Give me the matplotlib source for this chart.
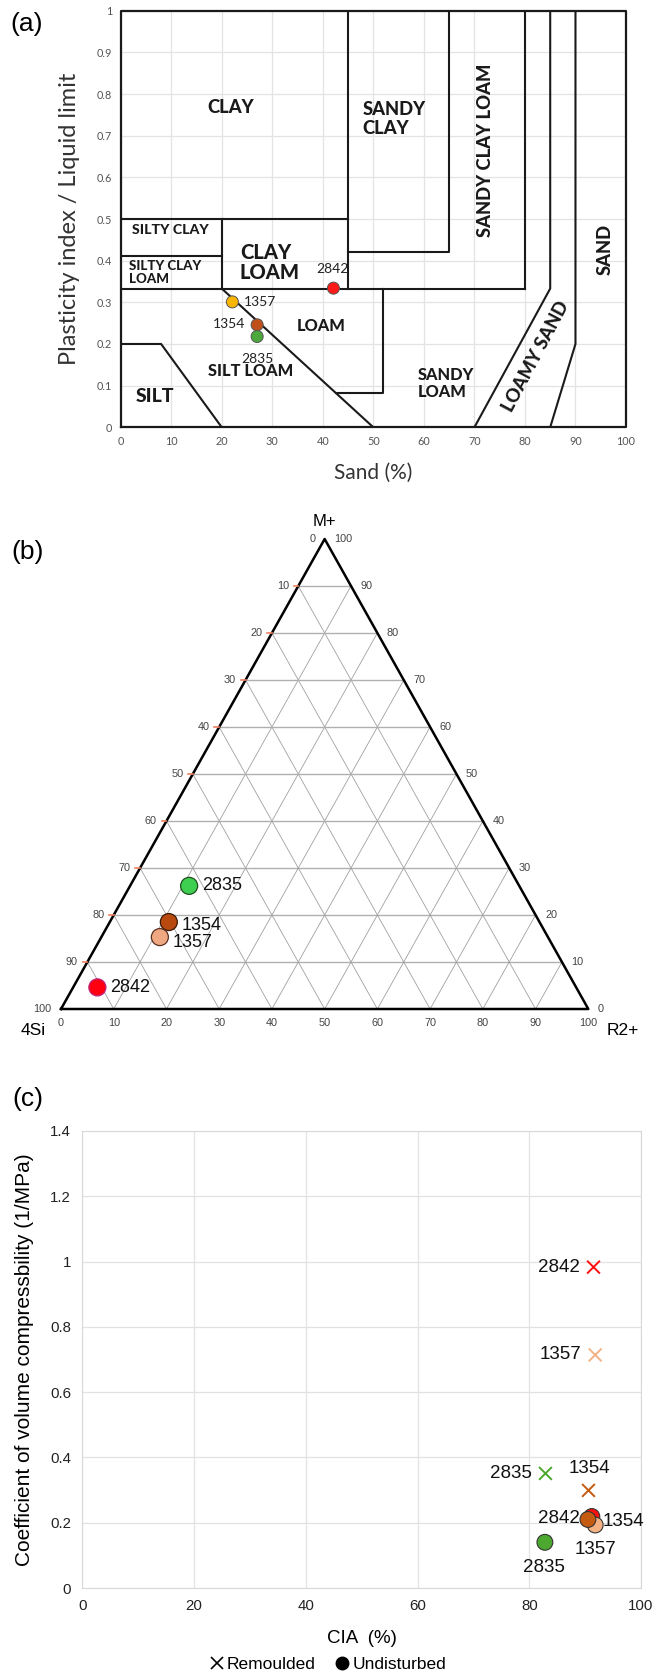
import matplotlib
matplotlib.use("Agg")
import matplotlib.pyplot as plt
from matplotlib.lines import Line2D
import numpy as np

W, H = 672, 1673

# ---------- panel (a): plasticity chart ----------
a_samples = ["2842", "1357", "1354", "2835"]
a_sand = [42.1, 22.1, 27.0, 27.0]
a_ratio = [0.334, 0.301, 0.246, 0.218]
a_colors = ["#ff1a1a", "#f7b500", "#c0501a", "#4ca83a"]

# class boundaries (sand %, PI/LL)
a_bounds = [
    [(45, 1), (45, 0.333)],
    [(65, 1), (65, 0.42), (45, 0.42)],
    [(80, 1), (80, 0.333)],
    [(85, 1), (85, 0.333), (70, 0)],
    [(90, 1), (90, 0.2), (85, 0)],
    [(0, 0.5), (45, 0.5)],
    [(20, 0.5), (20, 0.333)],
    [(0, 0.41), (20, 0.41)],
    [(0, 0.333), (80, 0.333)],
    [(20, 0.333), (50, 0)],
    [(0, 0.2), (8, 0.2), (20, 0)],
    [(52, 0.333), (52, 0.083), (42.6, 0.083)],
]
a_classes = ["CLAY", "SANDY\nCLAY", "SANDY CLAY LOAM", "SAND", "LOAMY SAND",
             "SILTY CLAY", "SILTY CLAY\nLOAM", "CLAY\nLOAM", "LOAM", "SILT LOAM",
             "SILT", "SANDY\nLOAM"]

# ---------- panel (b): ternary (4Si, M+, R2+) ----------
b_samples = ["2842", "2835", "1354", "1357"]
b_si = [90.8, 62.6, 70.3, 73.6]
b_m = [4.6, 26.2, 18.5, 15.3]
b_r = [4.6, 11.2, 11.2, 11.1]
b_colors = ["#ff0010", "#3fcf50", "#b84a10", "#f0a882"]
b_edges = ["#c0207a", "#1f4f1f", "#3a1a05", "#5a3020"]

# ---------- panel (c): CIA vs mv ----------
c_samples = ["2842", "1357", "2835", "1354"]
c_colors = ["#ff1010", "#f4b183", "#4ca82e", "#c55a11"]
c_rem_cia = [91.5, 91.8, 82.9, 90.6]
c_rem_mv = [0.983, 0.714, 0.351, 0.299]
c_und_cia = [91.2, 91.8, 82.8, 90.5]
c_und_mv = [0.219, 0.193, 0.140, 0.210]

fig = plt.figure(figsize=(W / 100, H / 100), dpi=100)


def box(l, t, r, b):
    return [l / W, 1 - b / H, (r - l) / W, (b - t) / H]


# ================= (a) =================
ax = fig.add_axes(box(120.7, 10.7, 626, 427.3))
ax.set_xlim(0, 100)
ax.set_ylim(0, 1)
ax.set_xticks(range(0, 101, 10))
ax.set_yticks(np.arange(0, 1.01, 0.1))
ax.set_yticklabels(["0"] + ["%.1f" % v for v in np.arange(0.1, 0.95, 0.1)] + ["1"])
ax.grid(color="#e3e3e3", lw=0.9)
ax.set_axisbelow(True)
ax.tick_params(length=0, labelsize=7.8, labelcolor="#555555", pad=6)
for lab in ax.get_xticklabels() + ax.get_yticklabels():
    lab.set_family("Lato")
for s in ax.spines.values():
    s.set_visible(False)
ax.plot([0, 100, 100, 0, 0], [0, 0, 1, 1, 0], color="#1a1a1a", lw=1.6, clip_on=False)
for line in a_bounds:
    xs, ys = zip(*line)
    ax.plot(xs, ys, color="#1a1a1a", lw=1.5)

a_lab_pos = [(21.7, 0.768), (47.8, 0.74), (72.2, 0.666), (95.8, 0.426), (82.2, 0.17),
             (9.8, 0.474), (1.6, 0.372), (23.6, 0.396), (39.7, 0.242), (25.7, 0.134),
             (6.8, 0.074), (58.8, 0.105)]
a_lab_size = [13.2, 13.2, 13.2, 13.2, 13.2, 10.2, 9.6, 14.5, 11.8, 11.8, 14, 11.8]
a_lab_rot = [0, 0, 90, 90, 62, 0, 0, 0, 0, 0, 0, 0]
a_lab_ha = ["center", "left", "center", "center", "center", "center", "left", "left",
            "center", "center", "center", "left"]
for name, (x, y), fs, rot, ha in zip(a_classes, a_lab_pos, a_lab_size, a_lab_rot, a_lab_ha):
    ax.text(x, y, name, fontsize=fs, rotation=rot, ha=ha, va="center",
            fontweight="black", family="Lato", color="#1a1a1a", linespacing=1.1)

ax.scatter(a_sand, a_ratio, s=75, c=a_colors, edgecolors="#555555", linewidths=0.7, zorder=5)
a_txt = [(41.9, 0.38, "center"), (24.4, 0.301, "left"), (24.6, 0.248, "right"), (27.0, 0.164, "center")]
for name, (x, y, ha) in zip(a_samples, a_txt):
    ax.text(x, y, name, fontsize=10, ha=ha, va="center", family="Lato", color="#222222")

ax.set_xlabel("Sand (%)", fontsize=15, family="Lato", color="#333333", labelpad=12)
ax.set_ylabel("Plasticity index / Liquid limit", fontsize=17, family="Lato",
              color="#333333", labelpad=12)
fig.text(27 / W, 1 - 24 / H, "(a)", fontsize=19, ha="center", va="center", family="Liberation Sans")

# ================= (b) =================
px_per = 527.3 / 100
Ht = 470 / px_per
bx = fig.add_axes([0, 1 - 1050 / H, 1, 550 / H])
bx.set_xlim(-61 / px_per, (672 - 61) / px_per)
bx.set_ylim((1009 - 1050) / px_per, (1009 - 500) / px_per)
bx.axis("off")


def tern(m, r):
    m = np.asarray(m, float)
    r = np.asarray(r, float)
    return r + m / 2, m * Ht / 100


for k in range(10, 100, 10):
    # horizontal lines (constant M+)
    x1, y1 = tern(k, 0)
    x2, y2 = tern(k, 100 - k)
    bx.plot([x1, x2], [y1, y2], color="#b0b0b0", lw=1.0, zorder=1)
    # constant R2+
    x1, y1 = tern(0, k)
    x2, y2 = tern(100 - k, k)
    bx.plot([x1, x2], [y1, y2], color="#a0a0a0", lw=0.6, zorder=1)
    # constant 4Si
    x1, y1 = tern(0, 100 - k)
    x2, y2 = tern(100 - k, 0)
    bx.plot([x1, x2], [y1, y2], color="#a0a0a0", lw=0.6, zorder=1)
bx.plot([0, 100, 50, 0], [0, 0, Ht, 0], color="black", lw=1.8, zorder=2)

tfont = dict(fontsize=7.8, color="#444444", family="Liberation Sans")
for k in range(0, 101, 10):
    x, y = tern(k, 0)
    bx.text(x - 1.8, y, str(100 - k), ha="right", va="center", **tfont)
    x, y = tern(k, 100 - k)
    bx.text(x + 1.8, y, str(k), ha="left", va="center", **tfont)
    x, y = tern(0, k)
    bx.text(x, y - 2.7, str(k), ha="center", va="center", **tfont)
    if 0 < k < 100:
        x, y = tern(k, 0)
        bx.plot([x - 0.9, x], [y, y], color="#f08060", lw=1.2, zorder=3)
bx.text(50, Ht + 3.3, "M+", fontsize=12, ha="center", va="center", family="Liberation Sans")
bx.text(-5.3, -4.0, "4Si", fontsize=12.5, ha="center", va="center", family="Liberation Sans")
bx.text(106.6, -4.0, "R2+", fontsize=12.5, ha="center", va="center", family="Liberation Sans")

tx, ty = tern(b_m, b_r)
bx.scatter(tx, ty, s=150, c=b_colors, edgecolors=b_edges, linewidths=0.9, zorder=5)
b_off = [(2.4, 0), (2.4, 0), (2.4, -0.6), (2.4, -1.0)]
for name, x, y, (dx, dy) in zip(b_samples, tx, ty, b_off):
    bx.text(x + dx, y + dy, name, fontsize=13, ha="left", va="center",
            family="Liberation Sans", color="#111111", zorder=6)
fig.text(28 / W, 1 - 552 / H, "(b)", fontsize=19, ha="center", va="center", family="Liberation Sans")

# ================= (c) =================
cx = fig.add_axes(box(82.3, 1131, 641, 1588))
cx.set_xlim(0, 100)
cx.set_ylim(0, 1.4)
cx.set_xticks(range(0, 101, 20))
cx.set_yticks(np.arange(0, 1.41, 0.2))
cx.set_yticklabels(["0", "0.2", "0.4", "0.6", "0.8", "1", "1.2", "1.4"])
cx.grid(color="#e2e2e2", lw=0.9)
cx.set_axisbelow(True)
for s in cx.spines.values():
    s.set_color("#d9d9d9")
cx.tick_params(length=0, labelsize=10.8, labelcolor="#222222", pad=8)
for lab in cx.get_xticklabels() + cx.get_yticklabels():
    lab.set_family("Liberation Sans")

cx.scatter(c_rem_cia, c_rem_mv, marker="x", s=85, c=c_colors, linewidths=1.4, zorder=5)
cx.scatter(c_und_cia, c_und_mv, marker="o", s=130, c=c_colors, edgecolors="#333333",
           linewidths=0.8, zorder=5)

rem_txt = [(89.1, 0.983, "right"), (89.3, 0.714, "right"), (80.4, 0.35, "right"), (90.7, 0.366, "center")]
und_txt = [(89.1, 0.212, "right"), (91.8, 0.118, "center"), (82.7, 0.063, "center"), (93.1, 0.203, "left")]
for name, (x, y, ha) in zip(c_samples, rem_txt):
    cx.text(x, y, name, fontsize=13.5, ha=ha, va="center", family="Liberation Sans", color="#111111")
for name, (x, y, ha) in zip(c_samples, und_txt):
    cx.text(x, y, name, fontsize=13.5, ha=ha, va="center", family="Liberation Sans", color="#111111", zorder=6)

cx.set_xlabel("CIA  (%)", fontsize=13.5, family="Liberation Sans", labelpad=12)
cx.set_ylabel("Coefficient of volume compressbility (1/MPa)", fontsize=15,
              family="Liberation Sans", labelpad=12)
handles = [Line2D([], [], marker="x", ls="none", color="black", markersize=8, mew=1.2),
           Line2D([], [], marker="o", ls="none", color="black", markersize=9)]
fig.legend(handles, ["Remoulded", "Undisturbed"], loc="center", ncol=2, frameon=False,
           bbox_to_anchor=(327 / W, 1 - 1664 / H), prop={"family": "Liberation Sans", "size": 12.5},
           handletextpad=0.1, columnspacing=1.0, handlelength=1.0)
fig.text(28 / W, 1 - 1099 / H, "(c)", fontsize=19, ha="center", va="center", family="Liberation Sans")

fig.savefig("out.png", dpi=100)
